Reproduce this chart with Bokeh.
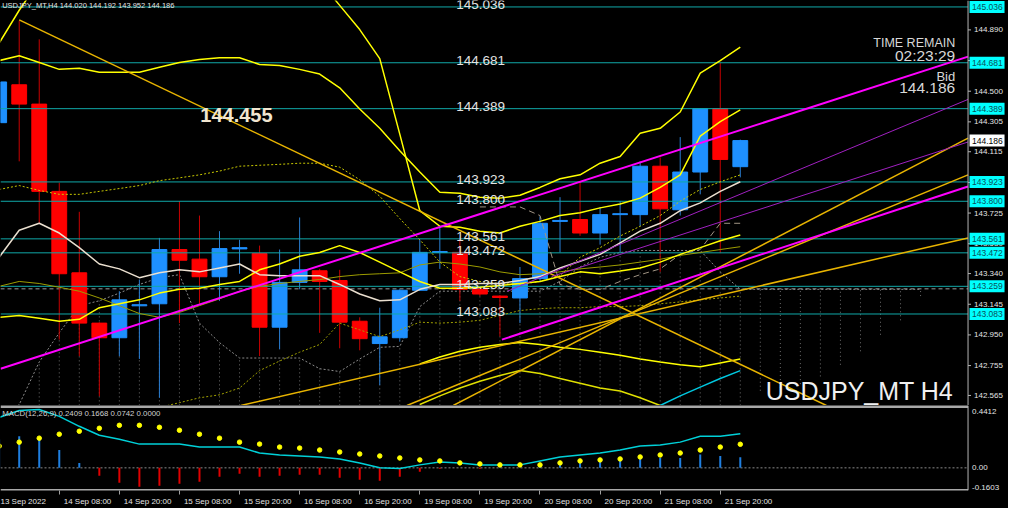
from bokeh.plotting import figure
from bokeh.models import Range1d, FixedTicker, ColumnDataSource, CustomJSTickFormatter
from bokeh.layouts import column
from bokeh.core.properties import value
from bokeh.embed import file_html
from bokeh.resources import INLINE

nan = float("nan")

# ---------------- data (H4 bars, index -1 = 13 Sep 20:00) ----------------
bar_idx = list(range(-1, 37))
opens = [144.300, 144.541, 144.418, 143.863, 143.345, 143.025, 142.932, 143.135, 143.148, 143.493,
         143.432, 143.320, 143.497, 143.468, 142.999, 143.284, 143.358, 143.296, 143.037, 142.895,
         142.932, 143.234, 143.474, 143.475, 143.240, 143.197, 143.185, 143.308, 143.672, 143.684,
         143.598, 143.715, 143.715, 144.023, 143.746, 143.986, 144.389, 144.020]
highs = [144.600, 144.948, 144.830, 143.918, 143.733, 143.030, 143.228, 143.302, 143.567, 143.801,
         143.709, 143.610, 143.555, 143.518, 143.493, 143.697, 143.370, 143.364, 143.062, 143.123,
         143.240, 143.555, 143.641, 143.567, 143.253, 143.203, 143.382, 143.703, 143.826, 143.924,
         143.764, 143.801, 144.054, 144.079, 144.208, 144.393, 144.681, 144.192]
lows = [144.250, 144.054, 143.660, 142.920, 142.815, 142.560, 142.815, 142.797, 142.550, 143.025,
        143.148, 143.167, 143.339, 142.815, 142.858, 143.240, 142.963, 142.865, 142.852, 142.630,
        142.907, 143.230, 143.370, 143.167, 143.197, 142.940, 143.025, 143.290, 143.474, 143.580,
        143.524, 143.474, 143.641, 143.351, 143.709, 143.844, 143.470, 143.952]
closes = [144.559, 144.418, 143.863, 143.339, 143.025, 142.932, 143.173, 143.142, 143.493, 143.425,
          143.320, 143.499, 143.505, 142.999, 143.284, 143.364, 143.290, 143.031, 142.926, 142.938,
          143.234, 143.475, 143.480, 143.240, 143.210, 143.188, 143.308, 143.660, 143.678, 143.598,
          143.715, 143.721, 144.023, 143.752, 143.986, 144.389, 144.066, 144.186]

ma_white = [143.444, 143.616, 143.660, 143.598, 143.505, 143.401, 143.370, 143.314, 143.345, 143.364,
            143.351, 143.376, 143.401, 143.333, 143.327, 143.327, 143.327, 143.271, 143.210, 143.167,
            143.173, 143.240, 143.271, 143.271, 143.277, 143.277, 143.296, 143.321, 143.376, 143.419,
            143.462, 143.536, 143.610, 143.660, 143.740, 143.790, 143.863, 143.924]
band_a = [144.695, 144.726, 144.683, 144.639, 144.646, 144.621, 144.621, 144.621, 144.652, 144.683,
          144.701, 144.713, 144.713, 144.670, 144.664, 144.639, 144.609, 144.522, 144.387, 144.264,
          144.122, 143.986, 143.857, 143.851, 143.826, 143.820, 143.838, 143.888, 143.943, 143.968,
          144.042, 144.085, 144.233, 144.264, 144.368, 144.615, 144.695, 144.781]
band_b = [144.806, 145.015, 145.20] + [nan] * 13 + [145.20,
          145.046, 144.892, 144.707, 144.227, 143.740, 143.641, 143.635, 143.610, 143.598, 143.641,
          143.672, 143.709, 143.727, 143.758, 143.783, 143.820, 143.888, 143.968, 144.214, 144.307, 144.381]
band_c = [143.062, 143.074, 143.056, 143.037, 143.049, 143.123, 143.148, 143.173, 143.216, 143.240,
          143.247, 143.271, 143.290, 143.364, 143.401, 143.450, 143.474, 143.518, 143.474, 143.413,
          143.351, 143.290, 143.247, 143.247, 143.253, 143.265, 143.277, 143.290, 143.321, 143.351,
          143.339, 143.357, 143.376, 143.413, 143.462, 143.505, 143.549, 143.586]
olive_line = [143.259, 143.290, 143.277, 143.253, 143.228, 143.185, 143.136, 143.086, 143.062, 143.093,
              143.136, 143.179, 143.228, 143.259, 143.277, 143.290, 143.302, 143.321, 143.333, 143.339,
              143.345, 143.395, 143.413, 143.401, 143.382, 143.351, 143.333, 143.339, 143.351, 143.370,
              143.382, 143.395, 143.413, 143.431, 143.456, 143.474, 143.493, 143.511]
dotted_yellow = [143.875, 143.900, 143.869, 143.844, 143.844, 143.863, 143.881, 143.900, 143.931, 143.949,
                 143.968, 143.992, 144.023, 144.029, 144.035, 144.042, 144.042, 144.017, 143.937, 143.832,
                 143.690, 143.555, 143.413, 143.321, 143.290, 143.277, 143.271, 143.290, 143.327, 143.444,
                 143.505, 143.579, 143.641, 143.709, 143.801, 143.875, 143.924, 143.968]
dotted_olive = [nan] * 8 + [142.489, 142.519, 142.550, 142.569, 142.612, 142.723, 142.784, 142.840,
                            142.889, 143.025, 142.982, 142.939, 142.982, 143.031, 143.025, 143.031,
                            143.043, 143.074, 143.105, 143.117, 143.123, 143.123, 143.130, 143.130,
                            143.136, 143.148, 143.160, 143.173, 143.185, 143.197]
lag_line = [nan] * 24 + [143.764, 143.764, 143.764, 143.709, 143.271, 143.240, 143.240, 143.290,
                         143.333, 143.370, 143.462, 143.493, 143.660, 143.660]
low_band_1 = [nan] * 21 + [142.766, 142.809, 142.846, 142.871, 142.889, 142.901, 142.889, 142.871, 142.858,
                           142.840, 142.821, 142.797, 142.778, 142.760, 142.747, 142.772, 142.797]
low_band_2 = [nan] * 21 + [142.507, 142.562, 142.612, 142.655, 142.692, 142.723, 142.704, 142.673, 142.643,
                           142.612, 142.593, 142.550, 142.501, 142.45] + [nan] * 3
low_cyan = [nan] * 32 + [142.45, 142.501, 142.562, 142.618, 142.673, 142.723]

cloud_idx = list(range(-1, 46))
cloud_top = [142.40, 142.507, 142.778, 142.963, 143.136, 143.167, 143.216, 143.271, 143.314, 143.333,
             143.025, 142.901, 142.803, 142.803, 142.803, 142.803, 142.735, 142.717, 142.797, 142.871,
             142.877, 143.130, 143.228, 143.228, 143.228, 143.228, 143.228, 143.228, 143.290, 143.382,
             143.444, 143.474, 143.487, 143.487, 143.487, 143.487, 143.351, 143.240] + [143.240] * 9
cloud_bottom = [142.40] * 38 + [142.595, 142.612, 142.637, 142.686, 142.760, 142.846, 142.951, 143.043, 143.197]

# horizontal levels
levels = [145.036, 144.681, 144.389, 143.923, 143.800, 143.561, 143.472, 143.259, 143.083]
bid_price = 144.186
dash_level = 143.243

# trend lines (bar index, price)
trend_gold = dict(x0=[0.0, 11.06, 19.36, 21.67], y0=[144.954, 142.501, 142.501, 142.501],
                  x1=[40.3, 47.37, 47.37, 47.37], y1=[142.501, 143.567, 143.968, 144.202])
trend_magenta = dict(x0=[-0.93, 24.1], y0=[142.735, 142.920], x1=[47.37, 47.37], y1=[144.720, 143.894])
trend_purple = dict(x0=[24.37, 26.58], y0=[143.228, 143.321], x1=[47.37, 47.37], y1=[144.448, 144.177])

price_ticks = [142.565, 142.755, 142.950, 143.145, 143.340, 143.530, 143.725, 143.920,
               144.115, 144.305, 144.500, 144.695, 144.890]

# MACD(12,26,9)
macd_main = [0.357, 0.406, 0.413, 0.364, 0.294, 0.231, 0.203, 0.168, 0.168, 0.168,
             0.147, 0.147, 0.147, 0.105, 0.091, 0.084, 0.077, 0.063, 0.035, 0.000,
             -0.005, 0.021, 0.042, 0.035, 0.021, 0.021, 0.021, 0.049, 0.077, 0.091,
             0.105, 0.126, 0.154, 0.161, 0.182, 0.224, 0.224, 0.2409]
macd_signal = [0.154, 0.182, 0.210, 0.238, 0.259, 0.280, 0.301, 0.301, 0.287, 0.266,
               0.238, 0.210, 0.182, 0.168, 0.147, 0.140, 0.126, 0.112, 0.098, 0.084,
               0.070, 0.056, 0.049, 0.035, 0.028, 0.021, 0.021, 0.021, 0.035, 0.049,
               0.056, 0.063, 0.077, 0.091, 0.105, 0.126, 0.147, 0.1668]
macd_hist = [0.20, 0.224, 0.203, 0.126, 0.035, -0.056, -0.105, -0.133, -0.126, -0.112,
             -0.098, -0.063, -0.042, -0.063, -0.056, -0.049, -0.049, -0.070, -0.084, -0.091,
             -0.063, -0.028, -0.007, 0.0, -0.007, 0.002, 0.0, 0.028, 0.042, 0.049,
             0.056, 0.063, 0.077, 0.070, 0.070, 0.095, 0.084, 0.0742]
macd_scale_labels = ["0.4412", "0.00", "-0.1603"]

time_tick_idx = [2, 5, 8, 11, 14, 17, 20, 23, 26, 29, 32, 35]
time_tick_text = ["14 Sep 08:00", "14 Sep 20:00", "15 Sep 08:00", "15 Sep 20:00", "16 Sep 08:00",
                  "16 Sep 20:00", "19 Sep 08:00", "19 Sep 20:00", "20 Sep 08:00", "20 Sep 20:00",
                  "21 Sep 08:00", "21 Sep 20:00"]
first_date_text = "13 Sep 2022"

header_text = "USDJPY_MT,H4  144.020 144.192 143.952 144.186"
macd_text = "MACD(12,26,9) 0.2409 0.1668 0.0742 0.0000"
timer_texts = ["TIME REMAIN", "02:23:29", "Bid", "144.186"]

# ---------------- layout constants ----------------
SANS = "Liberation Sans"
TXT = "#e4e4e4"
X_START, AXIS_X, X_END = -0.934, 47.37, 49.39
W = 1008
PXU = (X_END - X_START) / W          # bar-index units per pixel
Y0, Y1 = 142.501, 145.077
M0, M1 = -0.1603, 0.4412

xr = Range1d(X_START, X_END)

main = figure(frame_width=W, frame_height=405, x_range=xr, y_range=Range1d(Y0, Y1),
              output_backend="svg", toolbar_location=None, x_axis_location=None,
              y_axis_location=None, background_fill_color="black", border_fill_color="black",
              outline_line_color=None, min_border_left=0, min_border_top=0, min_border_bottom=0,
              min_border_right=0)
main.grid.visible = False

# cloud (dotted)
main.segment(x0=cloud_idx, y0=cloud_bottom, x1=cloud_idx, y1=cloud_top,
             line_color="#6e6e6e", line_dash="1 3", line_width=1)
main.line(cloud_idx, cloud_top, line_color="#8c8c8c", line_dash="2 2", line_width=1)
main.segment(x0=[X_START], y0=[dash_level], x1=[AXIS_X], y1=[dash_level], line_color="#9a9a9a",
             line_dash="4 3", line_width=1)

# candles
bull = [c >= o for o, c in zip(opens, closes)]
csrc = ColumnDataSource(dict(
    x=bar_idx, o=opens, h=highs, l=lows, c=closes,
    top=[max(o, c) for o, c in zip(opens, closes)],
    bot=[min(o, c) for o, c in zip(opens, closes)],
    body=["#1e90ff" if b else "#ff0000" for b in bull],
    wick=["#2a7fd4" if b else "#c80000" for b in bull],
))
main.segment(x0="x", y0="l", x1="x", y1="h", line_color="wick", line_width=1, source=csrc)
main.vbar(x="x", top="top", bottom="bot", width=0.74, fill_color="body", line_color="body",
          line_width=1, source=csrc)

# horizontal levels
main.segment(x0=[X_START] * len(levels), y0=levels, x1=[AXIS_X] * len(levels), y1=levels,
             line_color="#10a8a8", line_width=1)

# indicators
main.line(bar_idx, olive_line, line_color="#9c9c00", line_width=1)
main.line(bar_idx, dotted_yellow, line_color="#c8c800", line_dash="2 2", line_width=1)
main.line(bar_idx, dotted_olive, line_color="#a0a000", line_dash="2 2", line_width=1)
main.line(bar_idx, lag_line, line_color="#a09484", line_dash="6 4", line_width=1)
main.line(bar_idx, band_a, line_color="#ffff00", line_width=1.5)
main.line(bar_idx, band_b, line_color="#ffff00", line_width=1.5)
main.line(bar_idx, band_c, line_color="#ffff00", line_width=1.5)
main.line(bar_idx, low_band_1, line_color="#ffff00", line_width=1.5)
main.line(bar_idx, low_band_2, line_color="#e0e000", line_width=1.5)
main.line(bar_idx, low_cyan, line_color="#00c8e0", line_width=1.5)
main.line(bar_idx, ma_white, line_color="#eadfcf", line_width=1.5)

# trend lines
main.segment(source=ColumnDataSource(trend_gold), x0="x0", y0="y0", x1="x1", y1="y1",
             line_color="#e8b400", line_width=1.5)
main.segment(source=ColumnDataSource(trend_purple), x0="x0", y0="y0", x1="x1", y1="y1",
             line_color="#a020c0", line_width=1)
main.segment(source=ColumnDataSource(trend_magenta), x0="x0", y0="y0", x1="x1", y1="y1",
             line_color="#ff00ff", line_width=2)

# texts on chart
main.text(x=[21.82] * len(levels), y=levels, text=["%.3f" % lv for lv in levels],
          text_font=value(SANS), text_font_size="13.5px", text_color=TXT,
          text_baseline="alphabetic", text_align="left", y_offset=-2)
main.text(x=[9.04], y=[144.350], text=["144.455"], text_font=value(SANS), text_font_size="20px",
          text_font_style="bold", text_color="#f2e6d0", text_baseline="alphabetic")
main.text(x=[-0.85], y=[145.072], text=[header_text], text_font=value(SANS), text_font_size="7.5px",
          text_color=TXT, text_baseline="top")
main.text(x=[46.73] * 4, y=[144.806, 144.726, 144.596, 144.522], text=timer_texts,
          text_font=value(SANS), text_font_size=["12.5px", "15.5px", "13px", "15.5px"],
          text_color="#d8d8d8", text_align="right", text_baseline="alphabetic")
main.text(x=[46.63], y=[Y0], text=["USDJPY_MT H4"], text_font=value(SANS),
          text_font_size="25px", text_color="#f0f0f0", text_align="right", text_baseline="bottom",
          y_offset=-1)

# price scale (right)
main.segment(x0=[AXIS_X], y0=[Y0], x1=[AXIS_X], y1=[Y1], line_color="#b4b4b4", line_width=1)
main.segment(x0=[AXIS_X] * len(price_ticks), y0=price_ticks,
             x1=[AXIS_X + 3 * PXU] * len(price_ticks), y1=price_ticks, line_color="#b4b4b4")
main.text(x=[AXIS_X] * len(price_ticks), y=price_ticks, text=["%.3f" % t for t in price_ticks],
          x_offset=6, text_font=value(SANS), text_font_size="8px", text_color=TXT,
          text_baseline="middle")
main.rect(x=[AXIS_X + 19 * PXU] * len(levels), y=levels, width=35, height=12,
          width_units="screen", height_units="screen", fill_color="#00ffff", line_color=None)
main.text(x=[AXIS_X] * len(levels), y=levels, text=["%.3f" % lv for lv in levels], x_offset=4,
          text_font=value(SANS), text_font_size="8.5px", text_color="#0b4f58", text_baseline="middle")
main.rect(x=[AXIS_X + 19 * PXU], y=[bid_price], width=35, height=12, width_units="screen",
          height_units="screen", fill_color="#ffffff", line_color=None)
main.text(x=[AXIS_X], y=[bid_price], text=["%.3f" % bid_price], x_offset=4,
          text_font=value(SANS), text_font_size="8.5px", text_color="#000000", text_baseline="middle")

# ---------------- MACD panel ----------------
macd = figure(frame_width=W, frame_height=85, x_range=xr, y_range=Range1d(M0, M1),
              output_backend="svg", toolbar_location=None, y_axis_location=None,
              x_axis_location="below", background_fill_color="black", border_fill_color="black",
              outline_line_color=None, min_border_left=0, min_border_top=0, min_border_bottom=0,
              min_border_right=0)
macd.grid.visible = False
macd.segment(x0=[X_START], y0=[0], x1=[AXIS_X], y1=[0], line_color="#8a8a8a", line_dash="2 2")

hist_col = ["#1f7fe0" if v >= 0 else "#e00000" for v in macd_hist]
macd.segment(x0=bar_idx, y0=[0] * len(macd_hist), x1=bar_idx, y1=macd_hist,
             line_color=hist_col, line_width=2)
macd.line(bar_idx, macd_main, line_color="#00d0d8", line_width=1.5)
macd.scatter(bar_idx, macd_signal, size=4.5, fill_color="#ffff00", line_color="#ffff00")
macd.text(x=[-0.85], y=[M1], text=[macd_text], text_font=value(SANS), text_font_size="7.8px",
          text_color="#d0d0d0", text_baseline="top", y_offset=3)

# panel borders and MACD scale
macd.segment(x0=[X_START, X_START], y0=[M1, M0], x1=[AXIS_X, AXIS_X], y1=[M1, M0],
             line_color="#a8a8a8", line_width=[5, 3])
macd.segment(x0=[AXIS_X], y0=[M0], x1=[AXIS_X], y1=[M1], line_color="#b4b4b4", line_width=1)
macd.text(x=[AXIS_X] * 3, y=[M1, 0.0, M0], text=macd_scale_labels, x_offset=4,
          y_offset=[3, 0, -1], text_font=value(SANS), text_font_size="8px", text_color=TXT,
          text_baseline=["top", "middle", "bottom"])

mx = macd.xaxis[0]
label_pos = [0.19] + [round(t + 1.41, 2) for t in time_tick_idx]
label_txt = [first_date_text] + time_tick_text
mx.ticker = FixedTicker(ticks=label_pos, minor_ticks=time_tick_idx)
mx.formatter = CustomJSTickFormatter(args=dict(pos=label_pos, labs=label_txt), code="""
const k = pos.findIndex(p => Math.abs(p - tick) < 1e-6); return k >= 0 ? labs[k] : '';""")
mx.axis_line_color = None
mx.major_tick_out = 0
mx.major_tick_in = 0
mx.minor_tick_out = 4
mx.minor_tick_in = 0
mx.minor_tick_line_color = "#a0a0a0"
mx.major_label_text_color = TXT
mx.major_label_text_font = SANS
mx.major_label_text_font_size = "8px"
mx.major_label_standoff = 2

layout = column(main, macd, spacing=0, background="black")
open("out.html", "w").write(file_html(layout, INLINE))
